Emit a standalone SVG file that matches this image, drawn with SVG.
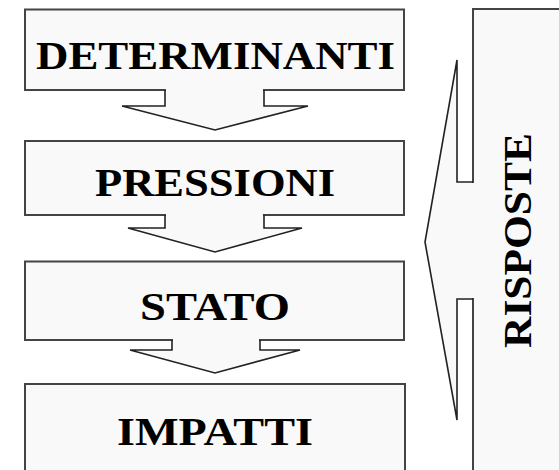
<svg xmlns="http://www.w3.org/2000/svg" width="559" height="470" viewBox="0 0 559 470">
  <style>
    .box { fill: #f9f9f9; stroke: #444; stroke-width: 2; }
    .cover { fill: #f9f9f9; stroke: none; }
    .edge { fill: none; stroke: #222; stroke-width: 1.6; stroke-linejoin: miter; }
    .lbl { font-family: "Liberation Serif", "Times New Roman", serif; font-weight: bold; font-size: 41px; fill: #000; }
  </style>

  <rect x="0" y="0" width="559" height="470" fill="#ffffff"/>

  <!-- DPSIR chain -->
  <g id="determinanti">
    <rect class="box" x="25" y="9.5" width="379" height="80.5"/>
    <text class="lbl" x="36" y="69" textLength="359" lengthAdjust="spacingAndGlyphs">DETERMINANTI</text>
  </g>

  <g id="pressioni">
    <rect class="box" x="25" y="141" width="379" height="74"/>
    <text class="lbl" x="95" y="196" textLength="240" lengthAdjust="spacingAndGlyphs">PRESSIONI</text>
  </g>

  <g id="stato">
    <rect class="box" x="25" y="261.5" width="379" height="78.5"/>
    <text class="lbl" x="140" y="320" textLength="150" lengthAdjust="spacingAndGlyphs">STATO</text>
  </g>

  <g id="impatti">
    <rect class="box" x="25" y="384" width="380" height="100"/>
    <text class="lbl" x="117" y="445" textLength="196" lengthAdjust="spacingAndGlyphs">IMPATTI</text>
  </g>

  <g id="risposte">
    <rect class="box" x="473" y="9" width="100" height="475"/>
    <text class="lbl" transform="translate(531,240.5) rotate(-90)" x="-107.5" y="0" textLength="215" lengthAdjust="spacingAndGlyphs">RISPOSTE</text>
  </g>

  <!-- block arrows joining the boxes -->
  <g id="connectors">
    <!-- determinanti to pressioni -->
    <polygon class="cover" points="166,88 263,88 263,106 308,106 215,130 122,106 166,106"/>
    <polyline class="edge" points="165,90 165,106 122,106 215,130 308,106 264,106 264,90"/>

    <!-- pressioni to stato -->
    <polygon class="cover" points="166,213 263,213 263,228 302,228 215,252 128,228 166,228"/>
    <polyline class="edge" points="165,215 165,228 128,228 215,252 302,228 264,228 264,215"/>

    <!-- stato to impatti -->
    <polygon class="cover" points="173,338 259,338 259,350 300,350 215,373 130,350 173,350"/>
    <polyline class="edge" points="172,340 172,350 130,350 215,373 300,350 260,350 260,340"/>

    <!-- risposte feeding back -->
    <polygon class="cover" points="475,183 475,298 457,298 457,420 425,242 457,60 457,183"/>
    <polyline class="edge" points="473,182 457,182 457,60 425,242 457,420 457,299 473,299"/>
  </g>
</svg>
